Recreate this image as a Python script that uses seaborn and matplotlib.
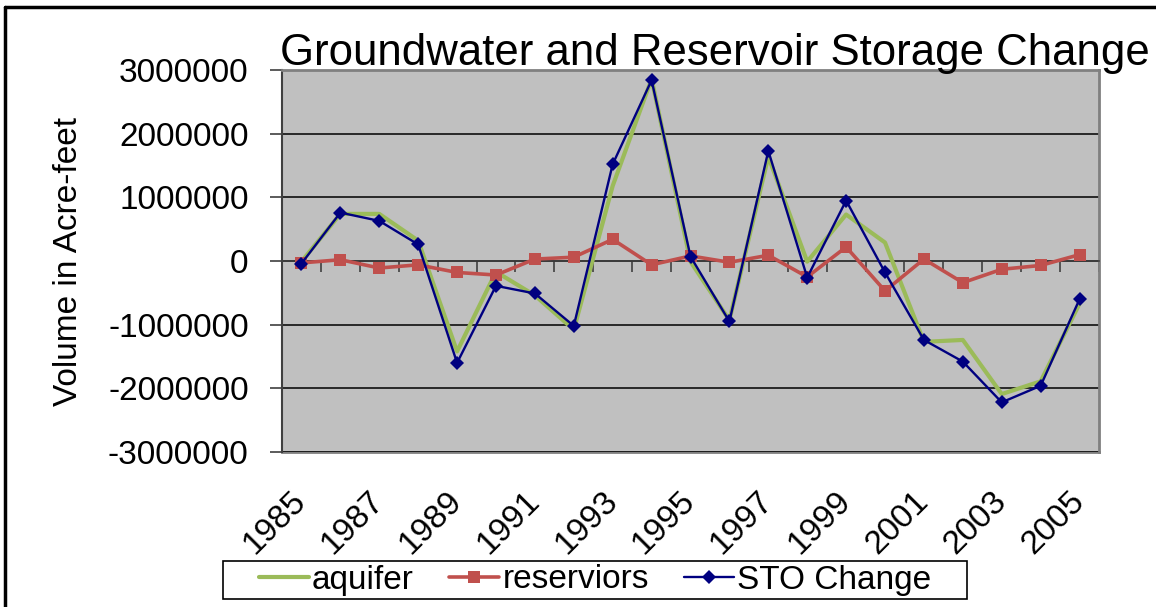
import matplotlib
matplotlib.use("Agg")
import matplotlib.pyplot as plt
import matplotlib.ticker as mticker
from matplotlib.lines import Line2D
from matplotlib.patches import Rectangle
import numpy as np
import pandas as pd
import seaborn as sns

# Storage change per year, acre-feet
years = list(range(1985, 2006))
aquifer = [-10000, 740000, 740000, 320000, -1420000, -170000, -540000, -1080000,
           1180000, 2860000, -10000, -930000, 1640000, -10000, 730000, 290000,
           -1270000, -1240000, -2090000, -1890000, -670000]
reservoirs = [-30000, 20000, -110000, -60000, -180000, -220000, 30000, 60000,
              340000, -60000, 80000, -20000, 90000, -250000, 220000, -470000,
              30000, -340000, -130000, -70000, 100000]
sto_change = [-40000, 760000, 630000, 260000, -1600000, -390000, -510000, -1020000,
              1520000, 2840000, 70000, -950000, 1730000, -260000, 950000, -180000,
              -1240000, -1580000, -2220000, -1960000, -600000]
y_ticks = [-3000000, -2000000, -1000000, 0, 1000000, 2000000, 3000000]
label_years = years[::2]

df = pd.DataFrame({"year": years, "aquifer": aquifer,
                   "reservoirs": reservoirs, "STO Change": sto_change})

sns.set_style("white")
plt.rcParams["font.family"] = ["Liberation Sans", "DejaVu Sans"]
plt.rcParams["text.color"] = "black"
plt.rcParams["xtick.labelcolor"] = "black"
plt.rcParams["ytick.labelcolor"] = "black"

W, H = 1156, 607
fig = plt.figure(figsize=(W / 100, H / 100), dpi=100)
ax = fig.add_axes([282 / W, 1 - 452 / H, 817 / W, 382 / H])
ax.set_facecolor("#C0C0C0")

sns.lineplot(data=df, x="year", y="aquifer", ax=ax, color="#9BBB59",
             linewidth=3.0, label="aquifer", zorder=3)
sns.lineplot(data=df, x="year", y="reservoirs", ax=ax, color="#C0504D",
             linewidth=2.6, marker="s", markersize=8.5, markeredgewidth=0,
             label="reserviors", zorder=4)
sns.lineplot(data=df, x="year", y="STO Change", ax=ax, color="#000080",
             linewidth=1.7, marker="D", markersize=7.5, markeredgewidth=0,
             label="STO Change", zorder=5)

ax.set_xlim(years[0] - 0.5, years[-1] + 0.5)
ax.set_ylim(y_ticks[0], y_ticks[-1])
ax.set_yticks(y_ticks)
ax.yaxis.set_major_formatter(mticker.FuncFormatter(lambda v, p: f"{v:.0f}"))
ax.tick_params(axis="y", direction="out", length=9, width=1.2, color="#404040",
               labelsize=24, pad=15, left=True, labelcolor="black")
ax.yaxis.grid(True, color="black", linewidth=1.1, zorder=1)
ax.set_axisbelow(True)
ax.set_xlabel("")
ax.set_ylabel("")

# category axis crosses at zero with ticks between categories
ax.spines["bottom"].set_position(("data", 0))
ax.spines["bottom"].set_color("#404040")
ax.spines["bottom"].set_linewidth(1.2)
ax.set_xticks(np.arange(years[0] - 0.5, years[-1] + 1, 1))
ax.set_xticklabels([])
ax.tick_params(axis="x", direction="out", length=8, width=1.2, color="#404040",
               bottom=True)
ax.spines["left"].set_color("#404040")
ax.spines["left"].set_linewidth(1.5)
for s in ["top", "right"]:
    ax.spines[s].set_color("#808080")
    ax.spines[s].set_linewidth(2)

# year labels at the bottom of the plot area
sec = ax.secondary_xaxis("bottom")
sec.set_xticks(label_years)
sec.set_xticklabels([str(y) for y in label_years], rotation=45, ha="right",
                    va="center", rotation_mode="anchor")
sec.tick_params(axis="x", length=0, labelsize=24, pad=32, labelcolor="black")
sec.spines["bottom"].set_color("#808080")
sec.spines["bottom"].set_linewidth(2)

fig.text(715 / W, 1 - 65 / H, "Groundwater and Reservoir Storage Change",
         fontsize=31.5, ha="center", va="baseline", color="black")
fig.text(69 / W, 1 - 262 / H, "Volume in Acre-feet", fontsize=24,
         rotation=90, ha="center", va="center", color="black")

handles, labels = ax.get_legend_handles_labels()
ax.get_legend().remove()
leg = fig.legend(handles, labels, loc="center", bbox_to_anchor=(595 / W, 1 - 580 / H),
                 ncol=3, frameon=False, fontsize=24, handlelength=1.5,
                 handletextpad=0.1, columnspacing=1.05, borderpad=0.1)
for t in leg.get_texts():
    t.set_color("black")
fig.add_artist(Rectangle((223 / W, 1 - 599 / H), 744 / W, 38 / H,
                         transform=fig.transFigure, fill=False,
                         edgecolor="black", linewidth=1.2))

# outer frame (top and left edges)
fig.add_artist(Line2D([5 / W, 1], [1 - 7 / H, 1 - 7 / H], transform=fig.transFigure,
                      color="black", linewidth=2.5))
fig.add_artist(Line2D([5 / W, 5 / W], [0, 1 - 7 / H], transform=fig.transFigure,
                      color="black", linewidth=2.5))

fig.savefig("out.png", dpi=100)
